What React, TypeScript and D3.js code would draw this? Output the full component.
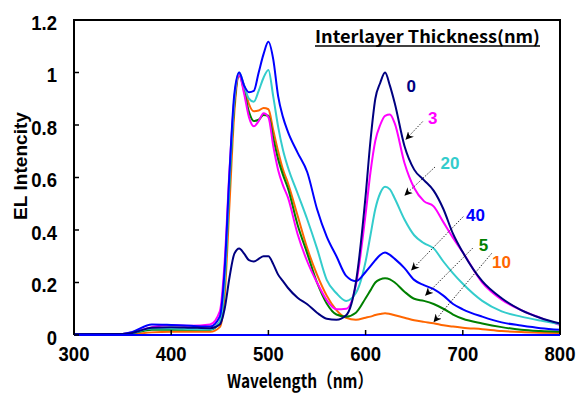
import React from "react";
import * as d3 from "d3";

const width = 584;
const height = 394;
const margin = { top: 20, right: 24, bottom: 59, left: 74 };

const wavelengths = [300, 350, 360, 380, 400, 420, 440, 450, 455, 460, 465, 470, 475, 480, 485, 490, 495, 500, 505, 510, 515, 520, 530, 540, 550, 560, 570, 580, 590, 600, 605, 610, 615, 620, 625, 630, 640, 650, 660, 670, 680, 690, 700, 720, 740, 760, 780, 800];

// EL intensity per interlayer thickness
const thick0 = [0.003, 0.004, 0.008, 0.028, 0.03, 0.028, 0.026, 0.04, 0.1, 0.22, 0.31, 0.33, 0.31, 0.285, 0.28, 0.29, 0.3, 0.3, 0.27, 0.23, 0.205, 0.18, 0.142, 0.117, 0.085, 0.062, 0.058, 0.075, 0.2, 0.53, 0.74, 0.9, 0.96, 1.0, 0.95, 0.883, 0.72, 0.63, 0.59, 0.55, 0.48, 0.385, 0.315, 0.205, 0.14, 0.095, 0.065, 0.044];
const thick3 = [0.003, 0.004, 0.01, 0.03, 0.038, 0.035, 0.04, 0.09, 0.28, 0.63, 0.9, 0.99, 0.92, 0.83, 0.795, 0.815, 0.845, 0.83, 0.72, 0.629, 0.57, 0.525, 0.385, 0.28, 0.2, 0.133, 0.098, 0.1, 0.19, 0.46, 0.62, 0.74, 0.8, 0.835, 0.84, 0.806, 0.655, 0.56, 0.51, 0.49, 0.43, 0.37, 0.315, 0.2, 0.135, 0.095, 0.065, 0.038];
const thick5 = [0.003, 0.004, 0.007, 0.02, 0.02, 0.02, 0.02, 0.05, 0.2, 0.58, 0.88, 0.99, 0.93, 0.85, 0.815, 0.82, 0.838, 0.835, 0.75, 0.67, 0.61, 0.56, 0.42, 0.31, 0.2, 0.12, 0.078, 0.07, 0.085, 0.14, 0.17, 0.2, 0.212, 0.216, 0.212, 0.2, 0.165, 0.138, 0.13, 0.118, 0.1, 0.078, 0.062, 0.044, 0.03, 0.02, 0.015, 0.012];
const thick10 = [0.002, 0.003, 0.004, 0.01, 0.012, 0.012, 0.012, 0.03, 0.15, 0.5, 0.85, 0.99, 0.95, 0.88, 0.852, 0.855, 0.865, 0.86, 0.78, 0.7, 0.63, 0.58, 0.455, 0.33, 0.23, 0.15, 0.095, 0.065, 0.058, 0.066, 0.07, 0.076, 0.08, 0.083, 0.08, 0.075, 0.066, 0.056, 0.05, 0.045, 0.037, 0.032, 0.028, 0.022, 0.015, 0.011, 0.009, 0.008];
const thick20 = [0.003, 0.004, 0.008, 0.025, 0.025, 0.023, 0.022, 0.05, 0.2, 0.58, 0.9, 1.0, 0.95, 0.9, 0.889, 0.93, 0.98, 1.01, 0.908, 0.794, 0.705, 0.64, 0.54, 0.44, 0.33, 0.21, 0.159, 0.13, 0.16, 0.28, 0.38, 0.48, 0.54, 0.565, 0.555, 0.52, 0.44, 0.38, 0.35, 0.33, 0.28, 0.235, 0.195, 0.13, 0.09, 0.07, 0.055, 0.042];
const thick40 = [0.003, 0.004, 0.012, 0.04, 0.038, 0.035, 0.032, 0.07, 0.25, 0.62, 0.92, 1.0, 0.95, 0.925, 0.93, 1.0, 1.07, 1.117, 1.05, 0.91, 0.83, 0.775, 0.695, 0.62, 0.48, 0.375, 0.3, 0.225, 0.205, 0.24, 0.262, 0.285, 0.305, 0.314, 0.305, 0.29, 0.255, 0.21, 0.19, 0.175, 0.15, 0.118, 0.098, 0.07, 0.048, 0.036, 0.026, 0.02];

const xTicks = [300, 400, 500, 600, 700, 800];
const yTicks = [0, 0.2, 0.4, 0.6, 0.8, 1, 1.2];

const series = [
  { name: "10", color: "#ff6600", values: thick10 },
  { name: "5", color: "#008000", values: thick5 },
  { name: "3", color: "#ff00ff", values: thick3 },
  { name: "20", color: "#33cccc", values: thick20 },
  { name: "40", color: "#0000ff", values: thick40 },
  { name: "0", color: "#000080", values: thick0 },
];

// label position and arrow (from -> to) in data units
const labels = [
  { name: "0", color: "#000080", at: [647, 0.949], from: null, to: null },
  { name: "3", color: "#ff00ff", at: [669, 0.827], from: [658.7, 0.813], to: [641.6, 0.746] },
  { name: "20", color: "#33cccc", at: [686.8, 0.657], from: [671.4, 0.64], to: [640.5, 0.533] },
  { name: "40", color: "#0000ff", at: [713, 0.459], from: [700.5, 0.451], to: [647.4, 0.248] },
  { name: "5", color: "#008000", at: [721.3, 0.343], from: [710.2, 0.331], to: [661.8, 0.152] },
  { name: "10", color: "#ff6600", at: [739.8, 0.278], from: [729.7, 0.311], to: [670.4, 0.051] },
];

const tickFont = "'Liberation Sans', Arial, sans-serif";
const jpFont = "'Noto Sans CJK JP', 'Liberation Sans', sans-serif";

export default function App() {
  const x = d3.scaleLinear().domain([300, 800]).range([margin.left, width - margin.right]);
  const y = d3.scaleLinear().domain([0, 1.2]).range([height - margin.bottom, margin.top]);
  const line = d3
    .line<number>()
    .x((d, i) => x(wavelengths[i]))
    .y((d) => y(d))
    .curve(d3.curveMonotoneX);

  const x0 = x(300), x1 = x(800), y0 = y(0), y1 = y(1.2);

  return (
    <div style={{ position: "absolute", left: 0, top: 0 }}>
      <svg width={width} height={height} style={{ display: "block", background: "#fff" }}>
        <defs>
          <marker id="arr" viewBox="0 0 10 10" refX="9" refY="5" markerWidth="8" markerHeight="8" orient="auto" markerUnits="userSpaceOnUse">
            <path d="M0,0 L10,5 L0,10 L3,5 Z" fill="#000" />
          </marker>
        </defs>

        {series.map((s) => (
          <path key={s.name} d={line(s.values) || ""} fill="none" stroke={s.color} strokeWidth={2} />
        ))}

        {/* frame */}
        <path d={`M${x0},${y0} L${x0},${y1} L${x1},${y1} L${x1},${y0}`} fill="none" stroke="#000" strokeWidth={2} />
        <line x1={x0} x2={x1} y1={y0} y2={y0} stroke="#0000ff" strokeWidth={2} />

        {yTicks.map((t) => (
          <g key={t}>
            <line x1={x0} x2={x0 + 5} y1={y(t)} y2={y(t)} stroke="#000" strokeWidth={1.5} />
            <text transform={`translate(57,${y(t) + 9.5}) scale(0.88,1)`} textAnchor="end" fontFamily={tickFont} fontWeight="bold" fontSize={21}>
              {t}
            </text>
          </g>
        ))}
        {xTicks.map((t) => (
          <g key={t}>
            {t > 300 && t < 800 && <line x1={x(t)} x2={x(t)} y1={y0} y2={y0 - 5} stroke="#000" strokeWidth={1.5} />}
            <text transform={`translate(${x(t)},361) scale(0.88,1)`} textAnchor="middle" fontFamily={tickFont} fontWeight="bold" fontSize={21}>
              {t}
            </text>
          </g>
        ))}

        <text transform="translate(27,166) rotate(-90)" textAnchor="middle" fontFamily={tickFont} fontWeight="bold" fontSize={19} textLength={108} lengthAdjust="spacingAndGlyphs">
          EL Intencity
        </text>
        <text x={227} y={388} fontFamily={jpFont} fontWeight="bold" fontSize={19} textLength={146} lengthAdjust="spacingAndGlyphs">
          Wavelength（nm）
        </text>

        <text x={315} y={43} fontFamily={jpFont} fontWeight="bold" fontSize={17} textLength={225} lengthAdjust="spacingAndGlyphs">
          Interlayer Thickness(nm)
        </text>
        <line x1={315} x2={540} y1={46} y2={46} stroke="#000" strokeWidth={1.5} />

        {labels.map((l) => (
          <g key={l.name}>
            {l.from && l.to && (
              <line
                x1={x(l.from[0])}
                y1={y(l.from[1])}
                x2={x(l.to[0])}
                y2={y(l.to[1])}
                stroke="#000"
                strokeWidth={0.8}
                strokeDasharray="1.5 1.5"
                markerEnd="url(#arr)"
              />
            )}
            <text x={x(l.at[0])} y={y(l.at[1]) + 6} textAnchor="middle" fill={l.color} fontFamily="'Liberation Sans', Arial, sans-serif" fontWeight="bold" fontSize={17}>
              {l.name}
            </text>
          </g>
        ))}
      </svg>
    </div>
  );
}
